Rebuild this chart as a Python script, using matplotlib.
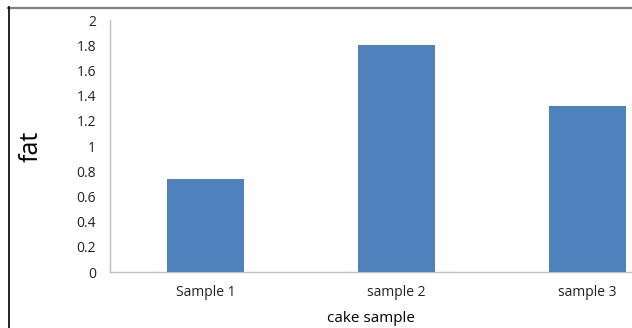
import matplotlib
matplotlib.use("Agg")
import matplotlib.pyplot as plt
from matplotlib.lines import Line2D

categories = ["Sample 1", "sample 2", "sample 3"]
fat = [0.74, 1.80, 1.32]
yticks = [0, 0.2, 0.4, 0.6, 0.8, 1, 1.2, 1.4, 1.6, 1.8, 2]
ylabels = ["0", "0.2", "0.4", "0.6", "0.8", "1", "1.2", "1.4", "1.6", "1.8", "2"]

W, H = 632, 328
fig = plt.figure(figsize=(W/100, H/100), dpi=100)
plt.rcParams['font.family'] = ['Open Sans', 'DejaVu Sans']

# axes: left at x=110, right at 632, top y=20, bottom y=272
ax = fig.add_axes([110/W, 1-272/H, (632-110)/W, (272-20)/H])
x = list(range(len(categories)))
ax.bar(x, fat, width=0.40, color="#4F81BD", zorder=3)
ax.set_ylim(0, 2)
ax.set_xlim(-0.5, 2.5 - (683-632)/191)
ax.set_yticks(yticks)
ax.set_yticklabels(ylabels, fontsize=10)
ax.set_xticks(x)
ax.set_xticklabels(categories, fontsize=10)
ax.tick_params(axis='both', length=0, pad=10, colors="#222222")
ax.tick_params(axis='x', pad=9)
for s in ["top", "right"]:
    ax.spines[s].set_visible(False)
for s in ["left", "bottom"]:
    ax.spines[s].set_color("#BFBFBF")
    ax.spines[s].set_linewidth(1)
ax.set_ylabel("fat", fontsize=18, labelpad=24)
ax.set_xlabel("cake sample", fontsize=11, labelpad=8)

# outer frame lines
fig.add_artist(Line2D([8/W, 1], [1-7.5/H, 1-7.5/H], transform=fig.transFigure, color="#7F7F7F", lw=1.6))
fig.add_artist(Line2D([8.5/W, 8.5/W], [0, 1-7/H], transform=fig.transFigure, color="#000000", lw=1.2))

fig.savefig("out.png", dpi=100)
